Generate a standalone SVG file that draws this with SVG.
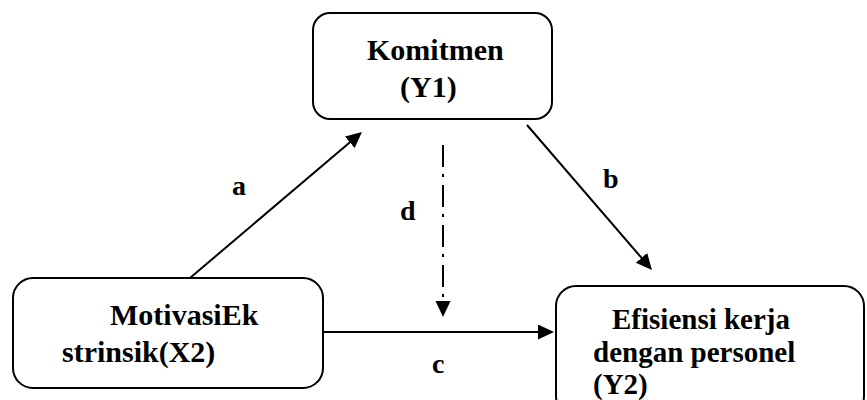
<svg xmlns="http://www.w3.org/2000/svg" width="867" height="400" viewBox="0 0 867 400">
<style>
.box{fill:#fff;stroke:#000;stroke-width:2}
.t{font-family:"Liberation Serif","Times New Roman",serif;font-weight:bold;fill:#000}
.n{font-size:30px}
.lbl{font-size:28px}
.ln{stroke:#000;stroke-width:2;fill:none}
</style>
<defs>
<marker id="ah" markerUnits="userSpaceOnUse" markerWidth="18" markerHeight="16" refX="13" refY="7.5" orient="auto">
<path d="M0,0 L16,7.5 L0,15 z" fill="#000"/>
</marker>
</defs>
<rect width="867" height="400" fill="#fff"/>
<g id="connectors">
<line class="ln" x1="190" y1="278" x2="359.7" y2="133.9" marker-end="url(#ah)"/>
<line class="ln" x1="527" y1="125" x2="650" y2="267.7" marker-end="url(#ah)"/>
<line class="ln" x1="443" y1="145" x2="443" y2="314" stroke-dasharray="22 7 3 8" marker-end="url(#ah)"/>
<line class="ln" x1="323" y1="332" x2="551" y2="332" marker-end="url(#ah)"/>
<text class="t lbl" x="232" y="195">a</text>
<text class="t lbl" x="603" y="188">b</text>
<text class="t lbl" x="400" y="220">d</text>
<text class="t lbl" x="432" y="373">c</text>
</g>
<g id="Y1">
<rect class="box" x="313" y="13" width="239" height="106" rx="17"/>
<text class="t n" x="367" y="60">Komitmen</text>
<text class="t n" x="400" y="97">(Y1)</text>
</g>
<g id="X2">
<rect class="box" x="13" y="278" width="310" height="110" rx="20"/>
<text class="t n" x="110" y="325">MotivasiEk</text>
<text class="t n" x="62" y="362">strinsik(X2)</text>
</g>
<g id="Y2">
<rect class="box" x="556" y="286" width="308" height="130" rx="20"/>
<text class="t" font-size="29" x="612" y="329">Efisiensi kerja</text>
<text class="t" font-size="29" x="593" y="362">dengan personel</text>
<text class="t" font-size="29" x="593" y="394">(Y2)</text>
</g>
</svg>
